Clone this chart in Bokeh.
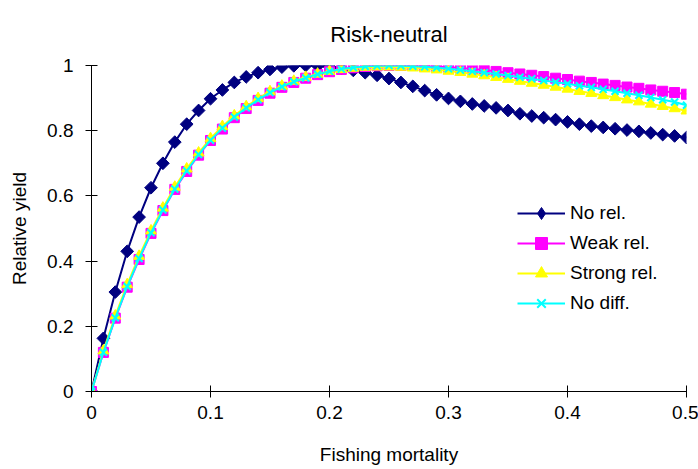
import numpy as np
from bokeh.plotting import figure
from bokeh.models import Range1d, Legend, LegendItem, FixedTicker, Title
from bokeh.embed import file_html
from bokeh.resources import INLINE

# Fishing mortality values
fishing_mortality = [round(0.01 * i, 2) for i in range(51)]

no_rel = [0.0, 0.163, 0.305, 0.43, 0.535, 0.625, 0.70, 0.765, 0.82, 0.862, 0.898,
          0.925, 0.948, 0.965, 0.978, 0.988, 0.995, 0.999, 1.0, 0.999, 0.996,
          0.991, 0.985, 0.978, 0.970, 0.960, 0.948, 0.936, 0.923, 0.910, 0.899,
          0.890, 0.882, 0.876, 0.870, 0.862, 0.852, 0.845, 0.840, 0.834, 0.827,
          0.820, 0.814, 0.810, 0.806, 0.802, 0.798, 0.793, 0.788, 0.784, 0.779]

weak_rel = [0.0, 0.12, 0.225, 0.32, 0.405, 0.485, 0.555, 0.62, 0.675, 0.725, 0.77,
            0.805, 0.84, 0.868, 0.893, 0.915, 0.933, 0.948, 0.961, 0.972, 0.981,
            0.988, 0.993, 0.997, 0.999, 1.0, 1.0, 1.0, 0.999, 0.997, 0.995,
            0.992, 0.989, 0.986, 0.982, 0.978, 0.974, 0.970, 0.966, 0.961, 0.957,
            0.952, 0.948, 0.943, 0.939, 0.934, 0.930, 0.925, 0.921, 0.917, 0.912]

strong_rel = [0.0, 0.125, 0.232, 0.328, 0.415, 0.493, 0.563, 0.627, 0.683, 0.732, 0.776,
              0.813, 0.846, 0.874, 0.899, 0.92, 0.937, 0.952, 0.964, 0.974, 0.982,
              0.988, 0.992, 0.995, 0.996, 0.996, 0.995, 0.993, 0.99, 0.987, 0.983,
              0.979, 0.974, 0.969, 0.964, 0.958, 0.952, 0.946, 0.940, 0.934, 0.928,
              0.921, 0.915, 0.908, 0.902, 0.895, 0.889, 0.882, 0.875, 0.868, 0.861]

no_diff = [0.0, 0.12, 0.226, 0.322, 0.408, 0.487, 0.557, 0.621, 0.677, 0.727, 0.771,
           0.808, 0.842, 0.870, 0.895, 0.917, 0.935, 0.950, 0.962, 0.973, 0.982,
           0.989, 0.994, 0.997, 0.999, 1.0, 0.999, 0.998, 0.996, 0.993, 0.990,
           0.986, 0.982, 0.978, 0.974, 0.969, 0.964, 0.959, 0.954, 0.949, 0.944,
           0.938, 0.933, 0.927, 0.921, 0.915, 0.909, 0.902, 0.895, 0.888, 0.878]

x_ticks = [0, 0.1, 0.2, 0.3, 0.4, 0.5]
y_ticks = [0, 0.2, 0.4, 0.6, 0.8, 1.0]

FONT = "Liberation Sans"

p = figure(width=698, height=468, output_backend="svg", toolbar_location=None,
           x_range=Range1d(0, 0.5), y_range=Range1d(0, 1),
           min_border_left=91, min_border_right=12, min_border_top=65, min_border_bottom=77)
p.outline_line_color = None
p.xgrid.visible = False
p.ygrid.visible = False
p.background_fill_color = "white"
p.border_fill_color = "white"

t = Title(text="Risk-neutral", align="center", text_font=FONT, text_font_size="22px",
          text_font_style="normal", text_color="#000000", standoff=37)
p.add_layout(t, "above")

for ax, ticks in ((p.xaxis[0], x_ticks), (p.yaxis[0], y_ticks)):
    ax.ticker = FixedTicker(ticks=ticks)
    ax.axis_line_color = "black"
    ax.major_tick_line_color = "black"
    ax.minor_tick_line_color = None
    ax.major_tick_in = 6
    ax.major_tick_out = 6
    ax.major_label_text_font = FONT
    ax.major_label_text_font_size = "19px"
    ax.major_label_text_color = "#000000"
    ax.axis_label_text_font = FONT
    ax.axis_label_text_font_size = "19px"
    ax.axis_label_text_font_style = "normal"
    ax.axis_label_text_color = "#000000"

p.xaxis.major_label_overrides = {0: "0", 0.1: "0.1", 0.2: "0.2", 0.3: "0.3", 0.4: "0.4", 0.5: "0.5"}
p.yaxis.major_label_overrides = {0: "0", 0.2: "0.2", 0.4: "0.4", 0.6: "0.6", 0.8: "0.8", 1.0: "1"}
p.xaxis.axis_label = "Fishing mortality"
p.yaxis.axis_label = "Relative yield"
p.xaxis.major_label_standoff = 8
p.xaxis.axis_label_standoff = 22
p.yaxis.major_label_standoff = 12
p.yaxis.axis_label_standoff = 14

items = []
l1 = p.line(fishing_mortality, no_rel, line_color="#000080", line_width=2)
s1 = p.scatter(fishing_mortality, no_rel, marker="square", angle=np.pi / 4, size=9,
               fill_color="#000080", line_color="#000080")
# legend-only diamond (placed outside the visible range)
d1 = p.scatter(x=[-1], y=[-1], marker="diamond", fill_color="#000080", line_color="#000080")
items.append(LegendItem(label="No rel.", renderers=[l1, d1]))

l2 = p.line(fishing_mortality, weak_rel, line_color="#FF00FF", line_width=2)
s2 = p.scatter(fishing_mortality, weak_rel, marker="square", size=10,
               fill_color="#FF00FF", line_color="#FF00FF")
items.append(LegendItem(label="Weak rel.", renderers=[l2, s2]))

l3 = p.line(fishing_mortality, strong_rel, line_color="#FFFF00", line_width=2)
s3 = p.scatter(fishing_mortality, strong_rel, marker="triangle", size=11,
               fill_color="#FFFF00", line_color="#FFFF00")
items.append(LegendItem(label="Strong rel.", renderers=[l3, s3]))

l4 = p.line(fishing_mortality, no_diff, line_color="#00FFFF", line_width=2)
s4 = p.scatter(fishing_mortality, no_diff, marker="x", size=10,
               line_color="#00FFFF", line_width=2)
items.append(LegendItem(label="No diff.", renderers=[l4, s4]))

legend = Legend(items=items, location=(426, 73), padding=0, margin=0, spacing=0,
                glyph_width=48, glyph_height=30, label_height=30, label_standoff=5,
                border_line_color=None, background_fill_alpha=0,
                label_text_font=FONT, label_text_font_size="19px", label_text_color="#000000")
p.add_layout(legend, "center")

open("out.html", "w").write(file_html(p, INLINE))
